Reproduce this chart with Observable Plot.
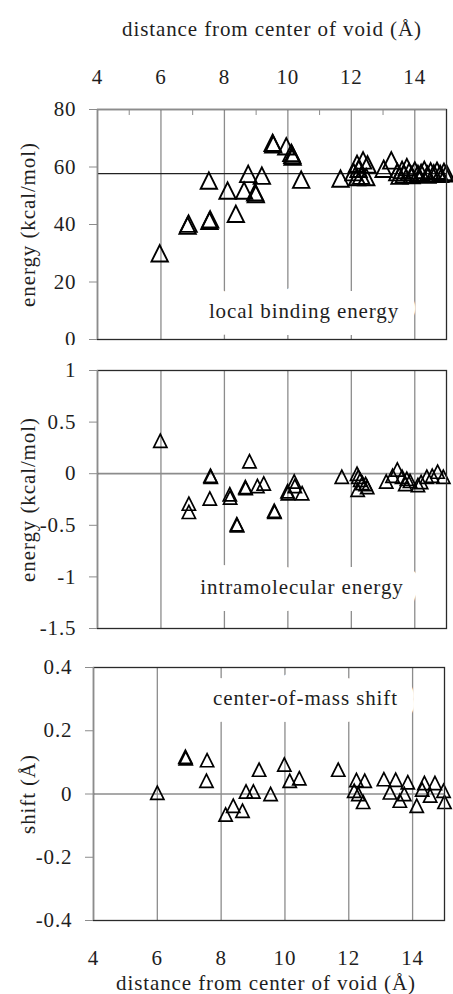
<!DOCTYPE html>
<html><head><meta charset="utf-8">
<script src="https://cdn.jsdelivr.net/npm/d3@7"></script>
<script src="https://cdn.jsdelivr.net/npm/@observablehq/plot@0.6"></script>
<style>
html,body{margin:0;padding:0;background:#fff;}
#chart{position:relative;width:453px;height:994px;overflow:hidden;background:#fff;}
</style></head><body><div id="chart"></div>
<script>
// ---- shared x axis ----
const xDomain = [4, 15];
const xTicks = [4, 6, 8, 10, 12, 14];
const xGrid = [6, 8, 10, 12, 14];
const xMinorTop = [5, 7, 9, 11, 13];
const xTitle = "distance from center of void (Å)";

// ---- panel 1: local binding energy ----
const bindingDomain = [0, 80];
const bindingTicks = [0, 20, 40, 60, 80];
const bindingAverage = 57.7;
const bindingTitle = "energy (kcal/mol)";
const bindingLabel = "local binding energy";
const distBinding = [5.96, 6.84, 6.87, 7.51, 7.53, 7.55, 8.10, 8.36, 8.62, 8.75, 8.97, 8.99, 9.18, 9.52, 9.54, 9.95, 10.11, 10.14, 10.15, 10.42,
  11.66, 12.07, 12.18, 12.23, 12.37, 12.51, 12.31, 12.47, 12.18, 13.02, 13.26, 13.45, 13.52, 13.60, 13.66, 13.75, 13.82, 13.90, 14.00,
  14.10, 14.20, 14.30, 14.40, 14.50, 14.60, 14.70, 14.80, 14.92, 15.00];
const bindingEnergy = [30.0, 39.6, 40.3, 55.3, 41.3, 41.8, 51.8, 43.7, 51.8, 57.6, 51.2, 50.6, 57.0, 68.4, 67.9, 67.2, 64.9, 64.2, 63.6, 55.6,
  56.0, 58.2, 61.1, 59.4, 62.3, 60.9, 57.0, 56.5, 56.5, 59.4, 62.3, 58.2, 57.0, 59.0, 57.5, 60.0, 58.3, 57.2, 58.8,
  57.6, 58.0, 59.0, 57.4, 58.5, 57.8, 58.7, 57.6, 58.3, 57.8];

// ---- panel 2: intramolecular energy ----
const intraDomain = [-1.5, 1];
const intraTicks = [1, 0.5, 0, -0.5, -1, -1.5];
const intraTitle = "energy (kcal/mol)";
const intraLabel = "intramolecular energy";
const distIntra = [5.98, 6.88, 6.88, 7.56, 7.57, 7.54, 8.17, 8.18, 8.39, 8.40, 8.66, 8.67, 8.79, 9.04, 9.24, 9.57, 9.58, 9.99, 10.00, 10.20, 10.22, 10.45,
  11.70, 12.18, 12.22, 12.28, 12.35, 12.20, 12.50, 12.45, 13.10, 13.30, 13.45, 13.60, 13.75, 13.70, 13.85, 14.10, 14.20, 14.38, 14.55, 14.72, 14.90];
const intraEnergy = [0.32, -0.29, -0.37, -0.02, -0.03, -0.24, -0.20, -0.23, -0.49, -0.50, -0.13, -0.14, 0.12, -0.12, -0.095, -0.36, -0.37, -0.17, -0.19, -0.075, -0.12, -0.19,
  -0.03, 0.0, -0.03, -0.06, -0.09, -0.155, -0.13, -0.10, -0.075, -0.02, 0.04, -0.03, -0.05, -0.10, -0.07, -0.11, -0.08, -0.03, -0.02, 0.02, -0.03];

// ---- panel 3: center-of-mass shift ----
const shiftDomain = [-0.4, 0.4];
const shiftTicks = [0.4, 0.2, 0, -0.2, -0.4];
const shiftTitle = "shift (Å)";
const shiftLabel = "center-of-mass shift";
const distShift = [6.00, 6.88, 6.89, 7.56, 7.54, 8.14, 8.38, 8.67, 8.78, 9.01, 9.19, 9.55, 9.98, 10.15, 10.45,
  11.67, 12.24, 12.50, 12.17, 12.30, 12.45, 13.10, 13.47, 13.85, 13.29, 13.60, 13.74, 14.13, 14.37, 14.30, 14.70, 14.55, 14.97, 15.00];
const comShift = [0.004, 0.118, 0.113, 0.107, 0.042, -0.065, -0.037, -0.053, 0.008, 0.008, 0.077, 0.0, 0.093, 0.042, 0.05,
  0.077, 0.044, 0.042, 0.01, 0.0, -0.025, 0.047, 0.045, 0.037, 0.005, -0.021, 0.0, -0.037, 0.035, 0.014, 0.035, -0.005, 0.01, -0.025];

// ---- styling ----
const serif = "Liberation Serif";
const ink = "#1e1e1e";
const gridGray = "#8c8c8c";
const FS = 21;
const txt = {fontSize: FS, fontFamily: serif, fill: ink};
const triangle = {
  draw(ctx, size) {
    const h = Math.sqrt(size / Math.PI) * 2, w = h;
    ctx.moveTo(0, -h / 2); ctx.lineTo(w / 2, h / 2); ctx.lineTo(-w / 2, h / 2); ctx.closePath();
  }
};

function panel(o) {
  const rows = o.xs.map((x, i) => ({x, y: o.ys[i]}));
  const frameCx = (o.marginLeft + (453 - o.marginRight)) / 2;
  const marks = [
    Plot.ruleX(xGrid, {stroke: gridGray, strokeWidth: 1.3}),
    Plot.ruleY([o.ref], {stroke: o.refColor, strokeWidth: o.refWidth}),
    Plot.text([o.label], {...txt, frameAnchor: o.labelAnchor, dx: o.labelX - frameCx, dy: o.labelDy, lineAnchor: "middle", textAnchor: "middle",
      stroke: "white", strokeWidth: 34, paintOrder: "stroke", strokeLinejoin: "round"}),
    Plot.dot(rows, {x: "x", y: "y", symbol: triangle, r: o.r, fill: "none", stroke: "#000", strokeWidth: o.sw}),
    Plot.frame({stroke: "#2a2a2a", strokeWidth: 1.3}),
    Plot.ruleX([xDomain[0]], {stroke: gridGray, strokeWidth: 1.4}),
    Plot.axisY({...txt, ticks: o.yTicks, tickSize: 8, tickPadding: 13, tickFormat: d => String(d), stroke: gridGray, label: null}),
    Plot.text([o.yTitle], {...txt, frameAnchor: "middle", dx: 28 - frameCx, rotate: -90, lineAnchor: "middle", textAnchor: "middle"})
  ];
  if (o.topAxis) {
    marks.push(
      Plot.ruleY([o.yDomain[1]], {stroke: gridGray, strokeWidth: 1.4}),
      Plot.axisX({anchor: "top", ticks: xMinorTop, tickSize: -5, tickFormat: () => "", stroke: gridGray, label: null}),
      Plot.text(xTicks, {...txt, x: d => d, text: d => String(d), frameAnchor: "top", dy: -32, lineAnchor: "middle", textAnchor: "middle"}),
      Plot.text([xTitle], {...txt, frameAnchor: "top", dy: -80, lineAnchor: "middle", textAnchor: "middle"})
    );
  }
  if (o.bottomAxis) {
    marks.push(
      Plot.text(xTicks, {...txt, x: d => d, text: d => String(d), frameAnchor: "bottom", dy: 38, lineAnchor: "middle", textAnchor: "middle"}),
      Plot.text([xTitle], {...txt, frameAnchor: "bottom", dx: -3, dy: 63, lineAnchor: "middle", textAnchor: "middle"})
    );
  }
  const svg = Plot.plot({
    width: 453, height: o.height,
    marginTop: o.marginTop, marginBottom: o.marginBottom, marginLeft: o.marginLeft, marginRight: o.marginRight,
    style: {fontFamily: serif, background: "white", overflow: "visible"},
    x: {domain: xDomain, axis: null, nice: false},
    y: {domain: o.yDomain, axis: null, nice: false},
    marks
  });
  svg.setAttribute("font-family", serif);
  svg.querySelectorAll("text").forEach(t => {
    t.setAttribute("font-family", serif);
    t.setAttribute("letter-spacing", "0.9");
  });
  svg.style.position = "absolute";
  svg.style.top = o.top + "px";
  svg.style.left = "0px";
  document.getElementById("chart").appendChild(svg);
}

panel({top: 0, height: 345, marginTop: 109, marginBottom: 6, marginLeft: 97, marginRight: 7,
  yDomain: bindingDomain, yTicks: bindingTicks, xs: distBinding, ys: bindingEnergy, r: 8.2, sw: 1.9,
  ref: bindingAverage, refColor: "#222", refWidth: 1.3,
  label: bindingLabel, labelAnchor: "bottom", labelX: 303.5, labelDy: -28.5, yTitle: bindingTitle, topAxis: true});

panel({top: 345, height: 295, marginTop: 25, marginBottom: 12, marginLeft: 97, marginRight: 7,
  yDomain: intraDomain, yTicks: intraTicks, xs: distIntra, ys: intraEnergy, r: 6.6, sw: 1.7,
  ref: 0, refColor: gridGray, refWidth: 1.7,
  label: intraLabel, labelAnchor: "bottom", labelX: 301.5, labelDy: -41, yTitle: intraTitle});

panel({top: 640, height: 354, marginTop: 27, marginBottom: 74, marginLeft: 93, marginRight: 9,
  yDomain: shiftDomain, yTicks: shiftTicks, xs: distShift, ys: comShift, r: 6.6, sw: 1.7,
  ref: 0, refColor: gridGray, refWidth: 1.7,
  label: shiftLabel, labelAnchor: "top", labelX: 305, labelDy: 31, yTitle: shiftTitle, bottomAxis: true});
</script></body></html>
